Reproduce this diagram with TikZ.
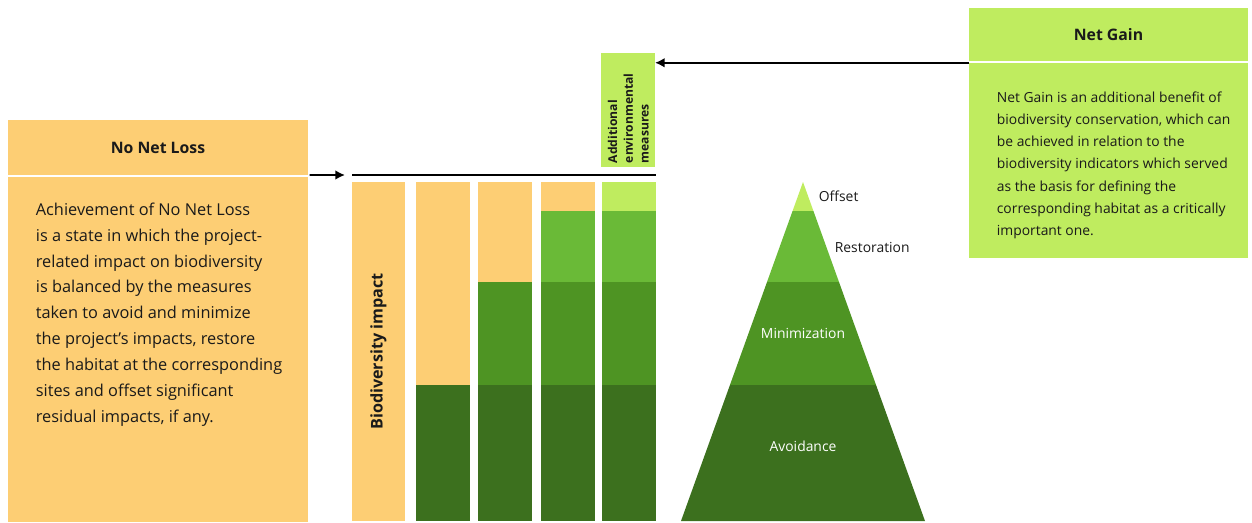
\documentclass[tikz,border=0pt]{standalone}
\usepackage{fontspec}
\setmainfont{Open Sans}
\usepackage{tikz}
\usetikzlibrary{arrows.meta,positioning}

\definecolor{loss}{HTML}{FDCE74}
\definecolor{gain}{HTML}{BFEC5F}
\definecolor{restore}{HTML}{6ABA37}
\definecolor{minim}{HTML}{4E9423}
\definecolor{avoid}{HTML}{3C701E}
\definecolor{ink}{HTML}{1A1A1A}

\tikzset{
  box/.style={inner sep=0pt, outer sep=0pt},
  headbox/.style={box, minimum height=1.08cm, font=\fontsize{9}{11}\selectfont\bfseries, text=ink},
  lefttext/.style={inner sep=0pt, anchor=north west, align=left, text=ink, font=\fontsize{9.3}{14.7}\selectfont},
  righttext/.style={inner sep=0pt, anchor=north west, align=left, text=ink, font=\fontsize{7.9}{12.6}\selectfont},
  steplabel/.style={inner sep=0pt, font=\fontsize{7.9}{10}\selectfont},
}

\begin{document}
\begin{tikzpicture}[x=0.02cm, y=-0.02cm, >={Latex[length=5.5pt,width=5.5pt]}, line width=1pt]
  \useasboundingbox (0,0) rectangle (1252,522);

  % no net loss box
  \node[headbox, fill=loss, minimum width=6cm, minimum height=1.1cm] (nnlhead) at (158,147.5) {No Net Loss};
  \node[box, fill=loss, minimum width=6cm, minimum height=6.9cm, below=1pt of nnlhead] (nnlbody) {};
  \node[lefttext] (nnltext) at (35,202) {Achievement of No Net Loss\\
    is a state in which the project-\\
    related impact on biodiversity\\
    is balanced by the measures\\
    taken to avoid and minimize\\
    the project's impacts, restore\\
    the habitat at the corresponding\\
    sites and offset significant\\
    residual impacts, if any.};

  % net gain box
  \node[headbox, fill=gain, minimum width=5.58cm, minimum height=1.06cm] (nghead) at (1108.5,34.5) {Net Gain};
  \node[box, fill=gain, minimum width=5.58cm, minimum height=3.9cm, below=1pt of nghead] (ngbody) {};
  \node[righttext] (ngtext) at (996,91) {Net Gain is an additional benefit of\\
    biodiversity conservation, which can\\
    be achieved in relation to the\\
    biodiversity indicators which served\\
    as the basis for defining the\\
    corresponding habitat as a critically\\
    important one.};

  % bars
  \node[box, fill=loss, rotate=90, minimum width=6.78cm, minimum height=1.06cm,
        font=\fontsize{9.2}{10}\selectfont\bfseries, text=ink] (impact) at (378.5,351.5) {Biodiversity impact};
  \foreach \x/\r/\m/\a/\top in {416/385/385/385/loss, 478/282/282/385/loss, 541/211/282/385/loss, 602/211/282/385/gain} {
    \fill[\top] (\x,182) rectangle (\x+54,521);
    \fill[restore] (\x,\r) rectangle (\x+54,\m);
    \fill[minim] (\x,\m) rectangle (\x+54,\a);
    \fill[avoid] (\x,\a) rectangle (\x+54,521);
  }

  \coordinate (linestart) at (352,175);
  \coordinate (lineend) at (656,175);
  \draw (linestart) -- (lineend);
  \draw[->, shorten <=1pt] (nnlhead.south east) -- ([xshift=-4pt]linestart);

  % additional measures
  \node[box, fill=gain, minimum width=1.08cm, minimum height=2.3cm] (aem) at (628,110) {};
  \node[inner sep=0pt, rotate=90, anchor=north west, align=left, text=ink,
        font=\fontsize{6.9}{9}\selectfont\bfseries] (aemtext) at (607,164) {Additional\\ environmental\\ measures};
  \draw[->] (ngbody.north west) -- (ngbody.north west -| aem.east);

  % mitigation pyramid
  \coordinate (apex) at (803,182);
  \coordinate (baseL) at (681,521);
  \coordinate (baseR) at (925,521);
  \begin{scope}
    \clip (baseL) -- (apex) -- (baseR) -- cycle;
    \fill[gain] (660,180) rectangle (940,211);
    \fill[restore] (660,211) rectangle (940,282);
    \fill[minim] (660,282) rectangle (940,385);
    \fill[avoid] (660,385) rectangle (940,522);
  \end{scope}
  \node[steplabel, anchor=west, text=ink] (offset) at (818,196) {Offset};
  \node[steplabel, anchor=west, text=ink] (restoration) at (834,247) {Restoration};
  \node[steplabel, text=white] (minimization) at (803,333) {Minimization};
  \node[steplabel, text=white] (avoidance) at (803,446) {Avoidance};
\end{tikzpicture}
\end{document}
